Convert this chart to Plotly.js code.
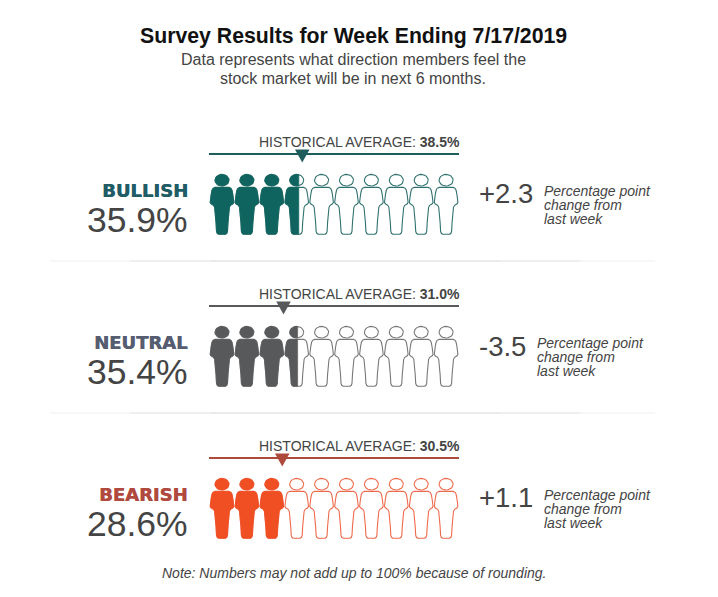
<!DOCTYPE html>
<html>
<head>
<meta charset="utf-8">
<script src="https://cdn.plot.ly/plotly-3.0.1.min.js"></script>
<style>html,body{margin:0;padding:0;background:#fff}</style>
</head>
<body>
<div id="chart" style="width:718px;height:597px"></div>
<script>
// values
const groups = ['BULLISH', 'NEUTRAL', 'BEARISH']
const percents = ['35.9%', '35.4%', '28.6%']
const changes = ['+2.3', '-3.5', '+1.1']
const histAverages = [38.5, 31.0, 30.5]
const filledPeople = [3.59, 3.54, 3]
const noteLines = ['Percentage point', 'change from', 'last week']
const noteLeft = [544, 537, 544]

const labelColors = ['#1f5c66', '#565d70', '#b04a3e']
const peopleColors = ['#10645f', '#58595b', '#f04e23']
const outlineColors = ['#2f716e', '#77787a', '#ee6a4c']
const lineColors = ['#1f5c5c', '#58595b', '#ae4a3b']

const W = 718, H = 597
const FONT = '"Liberation Sans", Arial, sans-serif'
const TEXT = '#444'
const PX_PER_PCT = 2.5
const X0 = 206
const ROW_PITCH = 152
const PEOPLE = 10

// half a person, px from centre / top of head
const bodyHalf = [[0, 13.1], [7, 13.1], [9, 14], [10, 16], [10.8, 20], [11.7, 26.5], [11.8, 28],
  [11, 29.5], [8.5, 31], [7.4, 33], [7, 36], [6, 48], [5.5, 57], [4.8, 59], [3.5, 60], [0, 60]]
const bodyPoly = bodyHalf.concat(bodyHalf.slice(1, -1).reverse().map(p => [-p[0], p[1]]))
const headPoly = []
for (let a = 0; a < 24; a++) {
  headPoly.push([7 * Math.cos(a * Math.PI / 12), 5.9 + 5.8 * Math.sin(a * Math.PI / 12)])
}

const clipRight = (poly, c) => {
  const out = []
  poly.forEach((p, i) => {
    const q = poly[(i + 1) % poly.length]
    if (p[0] <= c) out.push(p)
    if ((p[0] <= c) !== (q[0] <= c)) {
      const t = (c - p[0]) / (q[0] - p[0])
      out.push([c, p[1] + t * (q[1] - p[1])])
    }
  })
  return out
}

const addPoly = (trace, poly, cx, top) => {
  poly.concat([poly[0]]).forEach(p => {
    trace.x.push(cx + p[0] / PX_PER_PCT)
    trace.y.push(top + p[1])
  })
  trace.x.push(null)
  trace.y.push(null)
}

const polyTrace = (fill, line, width) => ({
  x: [], y: [], mode: 'lines', fill: 'toself', fillcolor: fill,
  line: {color: line, width: width}, hoverinfo: 'skip', showlegend: false
})

const data = []
const annotations = []

const addText = (text, px, py, anchor, size, color, extra) => {
  annotations.push(Object.assign({
    text: text, xref: 'paper', yref: 'paper', x: px / W, y: 1 - py / H,
    xanchor: anchor, yanchor: 'middle', showarrow: false, borderpad: 0, borderwidth: 0,
    font: {family: FONT, size: size, color: color}
  }, extra || {}))
}

groups.forEach((name, r) => {
  const off = r * ROW_PITCH
  // historical average rule + pointer
  data.push({
    x: [1.2, 101.2], y: [154 + off, 154 + off], mode: 'lines',
    line: {color: lineColors[r], width: 2}, hoverinfo: 'skip', showlegend: false
  })
  const v = histAverages[r]
  data.push({
    x: [v - 2.9, v + 2.9, v, v - 2.9], y: [149.5 + off, 149.5 + off, 162.5 + off, 149.5 + off],
    mode: 'lines', fill: 'toself', fillcolor: lineColors[r],
    line: {color: lineColors[r], width: 0}, hoverinfo: 'skip', showlegend: false
  })

  const empty = polyTrace('#fff', outlineColors[r], 1.1)
  const solid = polyTrace(peopleColors[r], peopleColors[r], 0.6)
  const top = 174.3 + off
  for (let i = 0; i < PEOPLE; i++) {
    const cx = 6.4 + i * 9.96
    addPoly(empty, bodyPoly, cx, top)
    addPoly(empty, headPoly, cx, top)
    const frac = filledPeople[r] - i
    if (frac <= 0) continue
    const c = -11.8 + Math.min(frac, 1) * 23.6
    addPoly(solid, clipRight(bodyPoly, c), cx, top)
    const head = clipRight(headPoly, c)
    if (head.length) addPoly(solid, head, cx, top)
  }
  data.push(empty, solid)

  addText(name, 187.5, 190.5 + off, 'right', 18, labelColors[r], {font: {
    family: '"DejaVu Sans", sans-serif', size: 18, color: labelColors[r], weight: 700,
    shadow: '0.5px 0 0 ' + labelColors[r]
  }})
  addText(percents[r], 187.5, 220 + off, 'right', 35.5, TEXT)
  addText('HISTORICAL AVERAGE: <b>' + v.toFixed(1) + '%</b>', 460, 142 + off, 'right', 14, TEXT)
  addText(changes[r], 479, 194 + off, 'left', 27.5, TEXT)
  noteLines.forEach((t, j) => {
    addText('<i>' + t + '</i>', noteLeft[r], 191 + off + j * 14, 'left', 14, TEXT)
  })
})

addText('<b>Survey Results for Week Ending 7/17/2019</b>', 353.5, 35.5, 'center', 21.25, '#111')
addText('Data represents what direction members feel the', 353.5, 60, 'center', 16, TEXT)
addText('stock market will be in next 6 months.', 353, 78, 'center', 16, TEXT)
addText('<i>Note: Numbers may not add up to 100% because of rounding.</i>', 353.5, 573, 'center', 14, TEXT)

// separators fade out at both ends
const shapes = []
;[261, 413].forEach(y => {
  const stops = [[50, 130, 0.35], [130, 210, 0.75], [210, 500, 1], [500, 580, 0.75], [580, 655, 0.35]]
  stops.forEach(s => shapes.push({
    type: 'line', xref: 'paper', yref: 'paper', x0: s[0] / W, x1: s[1] / W, y0: 1 - y / H, y1: 1 - y / H,
    line: {color: '#d6d6d6', width: 1}, opacity: s[2]
  }))
})

const layout = {
  width: W,
  height: H,
  margin: {l: 0, r: 0, t: 0, b: 0},
  paper_bgcolor: '#fff',
  plot_bgcolor: '#fff',
  showlegend: false,
  xaxis: {range: [-X0 / PX_PER_PCT, (W - X0) / PX_PER_PCT], visible: false, fixedrange: true},
  yaxis: {range: [H, 0], visible: false, fixedrange: true},
  shapes: shapes,
  annotations: annotations
}

Plotly.newPlot('chart', data, layout, {displayModeBar: false, staticPlot: true})
</script>
</body>
</html>
